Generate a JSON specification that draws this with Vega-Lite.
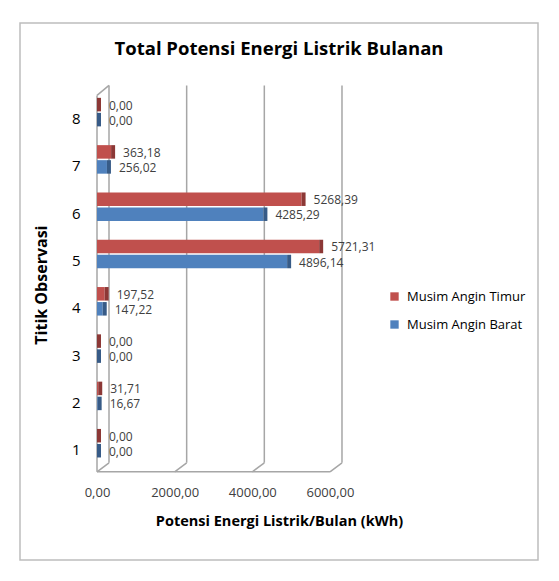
{
  "$schema": "https://vega.github.io/schema/vega-lite/v6.json",
  "width": 518,
  "height": 537,
  "autosize": {"type": "none"},
  "padding": {"left": 20, "top": 23, "right": 21, "bottom": 21},
  "background": "white",
  "title": {"text": "Total Potensi Energi Listrik Bulanan", "font": "Open Sans", "fontSize": 18.5, "fontWeight": "bold", "color": "#000000", "anchor": "middle", "dy": 39},
  "config": {
    "font": "Open Sans",
    "locale": {"number": {"decimal": ",", "thousands": ".", "grouping": [3], "currency": ["", ""]}},
    "view": {"stroke": "#BDBDBD", "strokeWidth": 1.5}
  },
  "datasets": {
    "energi": [
      {"titik": "1", "musim": "Musim Angin Timur", "v": 0},
      {"titik": "1", "musim": "Musim Angin Barat", "v": 0},
      {"titik": "2", "musim": "Musim Angin Timur", "v": 31.71},
      {"titik": "2", "musim": "Musim Angin Barat", "v": 16.67},
      {"titik": "3", "musim": "Musim Angin Timur", "v": 0},
      {"titik": "3", "musim": "Musim Angin Barat", "v": 0},
      {"titik": "4", "musim": "Musim Angin Timur", "v": 197.52},
      {"titik": "4", "musim": "Musim Angin Barat", "v": 147.22},
      {"titik": "5", "musim": "Musim Angin Timur", "v": 5721.31},
      {"titik": "5", "musim": "Musim Angin Barat", "v": 4896.14},
      {"titik": "6", "musim": "Musim Angin Timur", "v": 5268.39},
      {"titik": "6", "musim": "Musim Angin Barat", "v": 4285.29},
      {"titik": "7", "musim": "Musim Angin Timur", "v": 363.18},
      {"titik": "7", "musim": "Musim Angin Barat", "v": 256.02},
      {"titik": "8", "musim": "Musim Angin Timur", "v": 0},
      {"titik": "8", "musim": "Musim Angin Barat", "v": 0}
    ],
    "grid": [{"g": 0}, {"g": 2000}, {"g": 4000}, {"g": 6000}]
  },
  "layer": [
    {
      "data": {"name": "grid"},
      "mark": {"type": "rule", "color": "#A6A6A6", "strokeWidth": 1.5, "xOffset": 12, "yOffset": -10, "y2Offset": -11},
      "encoding": {
        "x": {"field": "g", "type": "quantitative", "title": "Potensi Energi Listrik/Bulan (kWh)",
              "scale": {"domain": [-1983, 11357], "nice": false, "zero": false},
              "axis": {"values": [0, 2000, 4000, 6000], "format": ".2f", "ticks": false, "domain": false, "grid": false, "offset": -76, "labelPadding": 2, "labelFontSize": 13, "labelColor": "#404040", "titleFontSize": 14.5, "titleFontWeight": "bold", "titleColor": "#000000", "titlePadding": 15}},
        "y": {"datum": "8", "type": "nominal", "bandPosition": 0, "title": "Titik Observasi",
              "scale": {"type": "band", "domain": ["8", "7", "6", "5", "4", "3", "2", "1"], "range": [72.4, 450.8], "paddingInner": 0, "paddingOuter": 0},
              "axis": {"ticks": false, "domain": false, "grid": false, "offset": -60, "labelPadding": 0, "labelFontSize": 15, "labelColor": "#000000", "titleFontSize": 16, "titleFontWeight": "bold", "titleColor": "#000000", "titlePadding": 22}},
        "y2": {"datum": "1", "bandPosition": 1}
      }
    },
    {
      "data": {"name": "grid"},
      "mark": {"type": "rule", "color": "#A6A6A6", "strokeWidth": 1.5, "x2Offset": 12, "yOffset": -2, "y2Offset": -11},
      "encoding": {
        "x": {"field": "g", "type": "quantitative", "title": "Potensi Energi Listrik/Bulan (kWh)"},
        "x2": {"field": "g"},
        "y": {"datum": "1", "type": "nominal", "bandPosition": 1, "title": "Titik Observasi"},
        "y2": {"datum": "1", "bandPosition": 1}
      }
    },
    {
      "data": {"values": [{"a": 1}]},
      "mark": {"type": "rule", "color": "#A6A6A6", "strokeWidth": 1.5, "yOffset": -2, "y2Offset": -2},
      "encoding": {
        "x": {"datum": 0, "type": "quantitative", "title": "Potensi Energi Listrik/Bulan (kWh)"},
        "x2": {"datum": 6000},
        "y": {"datum": "1", "type": "nominal", "bandPosition": 1, "title": "Titik Observasi"},
        "y2": {"datum": "1", "bandPosition": 1}
      }
    },
    {
      "data": {"values": [{"a": 1}]},
      "mark": {"type": "rule", "color": "#A6A6A6", "strokeWidth": 1.5, "y2Offset": -2},
      "encoding": {
        "x": {"datum": 0, "type": "quantitative", "title": "Potensi Energi Listrik/Bulan (kWh)"},
        "y": {"datum": "8", "type": "nominal", "bandPosition": 0, "title": "Titik Observasi"},
        "y2": {"datum": "1", "bandPosition": 1}
      }
    },
    {
      "data": {"values": [{"a": 1}]},
      "mark": {"type": "rule", "color": "#A6A6A6", "strokeWidth": 1.5, "x2Offset": 12, "y2Offset": -10},
      "encoding": {
        "x": {"datum": 0, "type": "quantitative", "title": "Potensi Energi Listrik/Bulan (kWh)"},
        "x2": {"datum": 0},
        "y": {"datum": "8", "type": "nominal", "bandPosition": 0, "title": "Titik Observasi"},
        "y2": {"datum": "8", "bandPosition": 0}
      }
    },
    {
      "data": {"name": "energi"},
      "mark": {"type": "bar"},
      "encoding": {
        "x": {"field": "v", "type": "quantitative", "title": "Potensi Energi Listrik/Bulan (kWh)"},
        "y": {"field": "titik", "type": "nominal", "title": "Titik Observasi"},
        "yOffset": {"field": "musim", "type": "nominal", "scale": {"domain": ["Musim Angin Timur", "Musim Angin Barat"], "paddingInner": 0.1, "paddingOuter": 0.625, "align": 0.13}},
        "color": {"field": "musim", "type": "nominal",
                  "scale": {"domain": ["Musim Angin Timur", "Musim Angin Barat"], "range": ["#C0504D", "#4F81BD"]},
                  "legend": {"title": null, "orient": "none", "legendX": 368, "legendY": 267, "symbolType": "square", "symbolSize": 70, "symbolStrokeWidth": 0, "labelFontSize": 13, "labelColor": "#000000", "rowPadding": 14, "labelOffset": 6, "padding": 0}}
      }
    },
    {
      "data": {"name": "energi"},
      "transform": [{"filter": "datum.musim === 'Musim Angin Timur'"}],
      "mark": {"type": "bar", "color": "#8C3836", "x2Offset": 4},
      "encoding": {
        "x": {"field": "v", "type": "quantitative", "title": "Potensi Energi Listrik/Bulan (kWh)"},
        "x2": {"field": "v"},
        "y": {"field": "titik", "type": "nominal", "title": "Titik Observasi"},
        "yOffset": {"field": "musim", "type": "nominal"}
      }
    },
    {
      "data": {"name": "energi"},
      "transform": [{"filter": "datum.musim === 'Musim Angin Barat'"}],
      "mark": {"type": "bar", "color": "#375B87", "x2Offset": 4},
      "encoding": {
        "x": {"field": "v", "type": "quantitative", "title": "Potensi Energi Listrik/Bulan (kWh)"},
        "x2": {"field": "v"},
        "y": {"field": "titik", "type": "nominal", "title": "Titik Observasi"},
        "yOffset": {"field": "musim", "type": "nominal"}
      }
    },
    {
      "data": {"name": "energi"},
      "mark": {"type": "text", "align": "left", "baseline": "middle", "dx": 12, "dy": 1, "fontSize": 12, "color": "#404040"},
      "encoding": {
        "x": {"field": "v", "type": "quantitative", "title": "Potensi Energi Listrik/Bulan (kWh)"},
        "y": {"field": "titik", "type": "nominal", "title": "Titik Observasi"},
        "yOffset": {"field": "musim", "type": "nominal"},
        "text": {"field": "v", "type": "quantitative", "format": ".2f"}
      }
    }
  ]
}
